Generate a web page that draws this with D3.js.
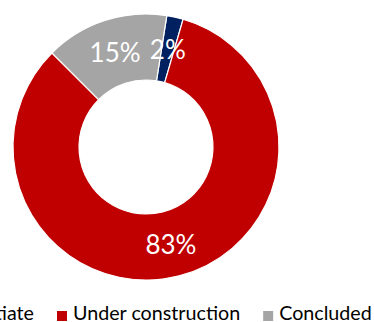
<!DOCTYPE html>
<html>
<head>
<meta charset="utf-8">
<script src="https://cdn.jsdelivr.net/npm/d3@7/dist/d3.min.js"></script>
<style>
  html, body { margin: 0; padding: 0; background: #fff; overflow: hidden; }
  svg { display: block; }
</style>
</head>
<body>
<svg id="chart" width="374" height="322"></svg>
<script>
// Project status shares
const categories = ["To initiate", "Under construction", "Concluded"];
const values = [2, 83, 15];
const labels = ["2%", "83%", "15%"];
const colors = ["#002060", "#C00000", "#A5A5A5"];

const svg = d3.select("#chart");

const cx = 146, cy = 147;
const outerR = 133, innerR = 67;
const startDeg = 9;

const pie = d3.pie()
  .value(d => d)
  .sort(null)
  .startAngle(startDeg * Math.PI / 180)
  .endAngle((startDeg + 360) * Math.PI / 180);

const arc = d3.arc().innerRadius(innerR).outerRadius(outerR);

const g = svg.append("g").attr("transform", `translate(${cx},${cy})`);
const arcs = pie(values);

g.selectAll("path.slice")
  .data(arcs)
  .enter().append("path")
  .attr("class", "slice")
  .attr("d", arc)
  .attr("fill", (d, i) => colors[i])
  .attr("stroke", "#fff")
  .attr("stroke-width", 1.2);

g.selectAll("text.pct")
  .data(arcs)
  .enter().append("text")
  .attr("class", "pct")
  .attr("x", d => arc.centroid(d)[0])
  .attr("y", d => arc.centroid(d)[1])
  .attr("text-anchor", "middle")
  .attr("dominant-baseline", "central")
  .attr("font-family", "Lato, 'Open Sans', sans-serif")
  .attr("font-size", 26)
  .attr("fill", "#fff")
  .text((d, i) => labels[i]);

// Legend along the bottom
const legend = svg.append("g").attr("class", "legend");
const fontSize = 19.7;
const sw = 10, gapText = 6, gapItem = 23;
const items = legend.selectAll("g.item")
  .data(categories)
  .enter().append("g").attr("class", "item");

items.append("rect")
  .attr("width", sw).attr("height", sw)
  .attr("y", 311)
  .attr("fill", (d, i) => colors[i]);

items.append("text")
  .attr("y", 320)
  .attr("font-family", "Lato, 'Open Sans', sans-serif")
  .attr("font-size", fontSize)
  .attr("fill", "#000")
  .text(d => d);

const widths = [];
items.select("text").each(function() { widths.push(this.getComputedTextLength()); });

// anchor the second item's swatch, lay the rest out around it
const secondX = 57;
const xs = [];
xs[1] = secondX;
xs[0] = secondX - gapItem - widths[0] - gapText - sw;
xs[2] = secondX + sw + gapText + widths[1] + gapItem;
items.each(function(d, i) {
  const s = d3.select(this);
  s.select("rect").attr("x", xs[i]);
  s.select("text").attr("x", xs[i] + sw + gapText);
});
</script>
</body>
</html>
